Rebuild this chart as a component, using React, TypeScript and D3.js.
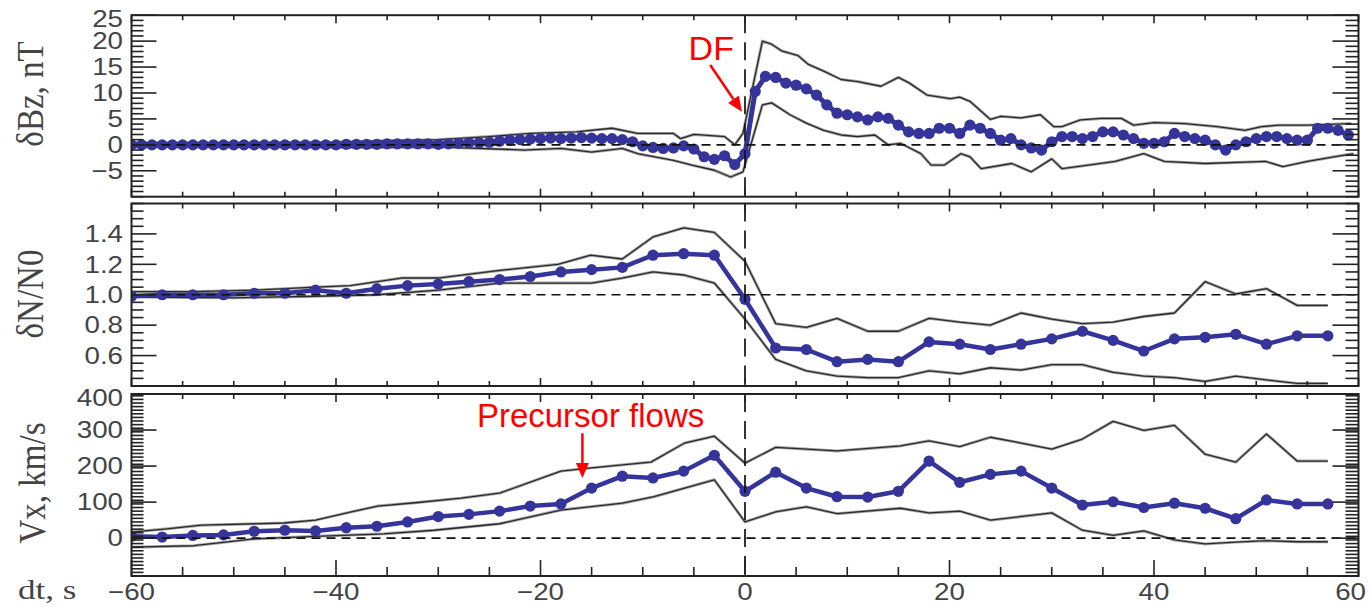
import React from 'react';
import * as d3 from 'd3';

// ---------- DATA ----------
// δBz (nT), 1-s samples from -60 s to 59 s
const bzTimes = d3.range(-60, 60, 1);
const bzMean = [
  // -60 .. -40
  0, 0, 0, 0, 0, 0, 0, 0, 0, 0, 0, 0, 0, 0, 0, 0, 0, 0, 0, 0, 0,
  // -39 .. -30
  0.1, 0.1, 0.1, 0.1, 0.2, 0.2, 0.2, 0.2, 0.2, 0.1,
  // -29 .. 0
  0.2, 0.3, 0.4, 0.4, 0.5, 0.7, 0.9, 1.0, 1.1, 1.2,
  1.3, 1.2, 1.3, 1.4, 1.3, 1.2, 1.2, 1.0, 0.6, -0.2,
  -0.5, -0.7, -0.6, -0.2, -0.8, -2.3, -2.8, -2.1, -3.8, -1.7,
  // 1 .. 14
  10.3, 13.2, 13.0, 11.9, 11.5, 10.8, 9.6, 7.7, 6.1, 5.8, 5.4, 4.8, 5.4, 5.1,
  // 15 .. 59
  3.8, 2.5, 2.2, 2.2, 3.2, 3.2, 2.2, 3.8, 3.2, 2.2,
  0.9, 1.2, 0, -0.6, -1.0, 0.6, 1.6, 1.6, 1.2, 1.6,
  2.5, 2.5, 1.9, 1.2, 0.3, 0.3, 0.6, 2.2, 1.6, 1.2,
  0.9, 0, -1.0, 0, 0.6, 1.2, 1.6, 1.6, 1.2, 0.9,
  0.9, 3.2, 3.2, 2.8, 1.9,
];
const bzUpperT = [-60, -50, -40, -35, -30, -25, -21, -16.5, -13, -10.5, -7, -6.3, -5, -2, -1, -0.2, 1.7, 2.6, 3.6, 5.2, 6.2, 7.7, 9.4, 11, 13.3, 15, 16, 17.8, 20.1, 21, 22, 24, 25, 27, 28.9, 30.2, 31, 32.8, 34.8, 36.8, 38, 40, 43, 46.2, 48.9, 50.5, 52.2, 55, 59.3];
const bzUpperV = [0.4, 0.4, 0.5, 0.8, 1.0, 1.6, 2.2, 2.5, 3.2, 2.2, 2.2, 1.2, 2.0, 1.6, 0.0, 2.2, 20.0, 19.4, 18.1, 17.2, 15.5, 14.2, 12.6, 12.2, 11.3, 13.0, 12.0, 9.6, 8.9, 9.2, 8.4, 4.9, 5.5, 5.2, 5.8, 3.5, 3.5, 4.8, 5.1, 5.1, 3.8, 4.3, 4.1, 3.5, 2.8, 3.5, 3.8, 3.8, 4.1];
const bzLowerT = [-60, -50, -40, -35, -30, -21.6, -18, -15, -12, -10.5, -7, -5, -3, -1.4, -0.2, 1.7, 2.6, 4.4, 6, 7.7, 9.4, 11, 12.7, 14, 15.2, 17.2, 18.2, 19.5, 21.1, 22, 23.1, 26.1, 28, 30, 31, 33.6, 36.2, 39, 41, 45, 50.9, 52.6, 55, 57.6, 59.5];
const bzLowerV = [-0.4, -0.4, -0.5, -0.5, -0.4, -1.0, -0.7, -1.4, -0.7, -1.7, -3.0, -4.0, -4.9, -6.2, -5.2, 7.7, 8.1, 5.8, 4.2, 2.8, 1.9, 1.6, 1.9, 0, 0.3, -1.7, -3.9, -3.9, -1.7, -2.3, -4.6, -3.6, -5.2, -2.7, -4.6, -3.9, -3.2, -1.7, -3.2, -3.6, -3.2, -4.2, -3.2, -2.3, -1.7];

// δN/N0, 3-s samples
const dnTimes = [-60, -57, -54, -51, -48, -45, -42, -39, -36, -33, -30, -27, -24, -21, -18, -15, -12, -9, -6, -3, 0, 3, 6, 9, 12, 15, 18, 21, 24, 27, 30, 33, 36, 39, 42, 45, 48, 51, 54, 57];
const dnMean = [0.99, 1.0, 1.0, 1.0, 1.01, 1.01, 1.03, 1.01, 1.04, 1.06, 1.07, 1.086, 1.1, 1.12, 1.15, 1.165, 1.18, 1.26, 1.27, 1.26, 0.97, 0.65, 0.64, 0.56, 0.575, 0.56, 0.69, 0.675, 0.64, 0.675, 0.71, 0.76, 0.7, 0.63, 0.71, 0.72, 0.74, 0.675, 0.73, 0.73];
const dnUpperT = [-60, -54, -48, -42, -38.6, -33.6, -30, -24, -18.3, -15.1, -12, -9, -6, -3, 0, 3, 6, 9, 12, 15, 18, 21, 24, 27, 30, 33, 36, 39, 42, 45, 48, 51, 54, 57];
const dnUpperV = [1.02, 1.02, 1.03, 1.05, 1.06, 1.11, 1.11, 1.16, 1.2, 1.26, 1.235, 1.38, 1.44, 1.41, 1.22, 0.81, 0.785, 0.845, 0.76, 0.76, 0.845, 0.82, 0.8, 0.88, 0.84, 0.81, 0.82, 0.857, 0.88, 1.086, 1.005, 1.04, 0.93, 0.93];
const dnLowerT = [-60, -50, -42, -36, -30, -24, -15, -12, -9, -6, -3, 0, 3, 6, 9, 12, 15, 18, 21, 24, 27, 30, 33, 36, 39, 42, 45, 48, 51, 54, 57];
const dnLowerV = [0.985, 0.98, 0.99, 1.0, 1.03, 1.077, 1.077, 1.11, 1.15, 1.13, 1.077, 0.84, 0.575, 0.5, 0.465, 0.455, 0.455, 0.5, 0.48, 0.52, 0.505, 0.54, 0.54, 0.49, 0.465, 0.455, 0.43, 0.465, 0.44, 0.417, 0.417];

// Vx (km/s), 3-s samples
const vxTimes = dnTimes;
const vxMean = [5, 3, 7.5, 9, 19, 22, 20, 29, 33, 45, 60, 66, 75, 89, 95, 139, 172, 167, 186, 230, 130, 183, 139, 115, 114, 130, 214, 155, 177, 186, 139, 92, 101, 85, 97, 83, 54, 106, 95, 95];
const vxUpperT = [-60, -56.5, -53.2, -45.1, -42, -38.5, -35.9, -32, -27.8, -24, -18, -15, -9.2, -5.9, -3, 0, 3, 9, 15.2, 18, 21, 24, 27, 30, 33, 36, 39, 42, 45, 48, 51, 54, 57];
const vxUpperV = [17, 26, 36, 42, 50, 73, 89, 99, 111, 125, 186, 195, 211, 264, 283, 208, 252, 242, 256, 270, 254, 280, 264, 247, 275, 324, 299, 313, 233, 211, 289, 214, 214];
const vxLowerT = [-60, -53.9, -48, -42, -35.3, -30.4, -24, -18, -12, -8.9, -3, 0, 3, 6, 9, 15.2, 18, 21, 24, 30, 33, 36, 39, 42, 45, 48, 51, 54, 57];
const vxLowerV = [-25, -21, -2, 5, 12, 22, 40, 78, 97, 115, 162, 45, 73, 87, 68, 83, 70, 75, 50, 70, 22, 8, 20, -5, -16, -11, -7, -10, -10];

// axis ticks
const xMajorTicks = [-60, -40, -20, 0, 20, 40, 60];
const bzTickValues = [-5, 0, 5, 10, 15, 20, 25];
const dnTickValues = [0.6, 0.8, 1.0, 1.2, 1.4];
const vxTickValues = [0, 100, 200, 300, 400];

// ---------- LAYOUT ----------
const W = 1371;
const H = 607;
const XL = 131.5;
const XR = 1358.5;
const BLUE = '#34349a';
const LABEL = '#444';

const x = d3.scaleLinear().domain([-60, 60]).range([XL, XR]);

type Panel = {
  key: string;
  top: number;
  bottom: number;
  domain: [number, number];
  majors: number[];
  minorStep: number;
  fmt: (v: number) => string;
  title: string;
  titleX: number;
  titleY: number;
  ref: number;
  t: number[];
  mean: number[];
  upT: number[];
  upV: number[];
  loT: number[];
  loV: number[];
  r: number;
  lw: number;
  topLabelShift: number;
};

const fmtInt = (v: number) => (v < 0 ? '\u2212' + Math.abs(v) : String(v));

const panels: Panel[] = [
  {
    key: 'bz', top: 15.2, bottom: 196.7, domain: [-10, 25], majors: bzTickValues, minorStep: 1,
    fmt: fmtInt, title: 'δBz, nT', titleX: 30, titleY: 94, ref: 0,
    t: bzTimes, mean: bzMean, upT: bzUpperT, upV: bzUpperV, loT: bzLowerT, loV: bzLowerV,
    r: 5.6, lw: 5, topLabelShift: 4,
  },
  {
    key: 'dn', top: 203.5, bottom: 386, domain: [0.4, 1.6], majors: dnTickValues, minorStep: 0.05,
    fmt: (v) => v.toFixed(1), title: 'δN/N0', titleX: 30, titleY: 294, ref: 1.0,
    t: dnTimes, mean: dnMean, upT: dnUpperT, upV: dnUpperV, loT: dnLowerT, loV: dnLowerV,
    r: 5.6, lw: 4.5, topLabelShift: 0,
  },
  {
    key: 'vx', top: 394, bottom: 576, domain: [-105, 400], majors: vxTickValues, minorStep: 10,
    fmt: fmtInt, title: 'Vx, km/s', titleX: 32, titleY: 483, ref: 0,
    t: vxTimes, mean: vxMean, upT: vxUpperT, upV: vxUpperV, loT: vxLowerT, loV: vxLowerV,
    r: 5.6, lw: 4.5, topLabelShift: 4,
  },
];

const xMinor = d3.range(-60, 60.001, 5);

function PanelView({ p, isLast }: { p: Panel; isLast: boolean }) {
  const y = d3.scaleLinear().domain(p.domain).range([p.bottom, p.top]);
  const line = d3
    .line<[number, number]>()
    .x((d) => x(d[0]))
    .y((d) => y(d[1]));
  const meanPts: [number, number][] = p.t.map((t, i) => [t, p.mean[i]]);
  const upPts: [number, number][] = p.upT.map((t, i) => [t, p.upV[i]]);
  const loPts: [number, number][] = p.loT.map((t, i) => [t, p.loV[i]]);

  const eps = 1e-6;
  const minors = d3
    .range(p.domain[0], p.domain[1] + eps, p.minorStep)
    .filter((v) => v >= p.domain[0] - eps && v <= p.domain[1] + eps)
    .filter((v) => !p.majors.some((m) => Math.abs(m - v) < p.minorStep / 10));

  const clipId = 'clip-' + p.key;
  const bottomMinorLen = isLast ? 9 : 5;
  const bottomMajorLen = isLast ? 16 : 8;

  return (
    <g>
      <defs>
        <clipPath id={clipId}>
          <rect x={XL} y={p.top} width={XR - XL} height={p.bottom - p.top} />
        </clipPath>
      </defs>
      <g clipPath={`url(#${clipId})`}>
        {/* envelopes */}
        {[upPts, loPts].map((pts, i) => (
          <g key={i}>
            <path d={line(pts) || ''} fill="none" stroke="#a8a8a8" strokeWidth={3} strokeLinejoin="round" />
            <path d={line(pts) || ''} fill="none" stroke="#2a2a2a" strokeWidth={1.3} strokeLinejoin="round" />
          </g>
        ))}
        {/* mean */}
        <path d={line(meanPts) || ''} fill="none" stroke={BLUE} strokeWidth={p.lw} strokeLinejoin="round" />
        {meanPts.map((d, i) => (
          <circle key={i} cx={x(d[0])} cy={y(d[1])} r={p.r} fill={BLUE} />
        ))}
        {/* reference dashed lines */}
        <line x1={XL} x2={XR} y1={y(p.ref)} y2={y(p.ref)} stroke="#111" strokeWidth={1.7} strokeDasharray="9,6" />
        <line x1={x(0)} x2={x(0)} y1={p.top} y2={p.bottom} stroke="#111" strokeWidth={1.7} strokeDasharray="18,9" />
      </g>

      {/* y ticks left and right */}
      {p.majors.map((v) => (
        <g key={'M' + v}>
          <line x1={XL} x2={XL + 25} y1={y(v)} y2={y(v)} stroke="#222" strokeWidth={1.6} />
          <line x1={XR} x2={XR - 26} y1={y(v)} y2={y(v)} stroke="#222" strokeWidth={1.6} />
        </g>
      ))}
      {minors.map((v, i) => (
        <g key={'m' + i}>
          <line x1={XL} x2={XL + 12} y1={y(v)} y2={y(v)} stroke="#222" strokeWidth={1.6} />
          <line x1={XR} x2={XR - 13} y1={y(v)} y2={y(v)} stroke="#222" strokeWidth={1.6} />
        </g>
      ))}
      {/* x ticks top and bottom */}
      {xMinor.map((t) => {
        const major = xMajorTicks.includes(t);
        return (
          <g key={'x' + t}>
            <line x1={x(t)} x2={x(t)} y1={p.top} y2={p.top + (major ? 8 : 5)} stroke="#222" strokeWidth={1.6} />
            <line x1={x(t)} x2={x(t)} y1={p.bottom} y2={p.bottom - (major ? bottomMajorLen : bottomMinorLen)} stroke="#222" strokeWidth={1.6} />
          </g>
        );
      })}
      {/* frame */}
      <rect x={XL} y={p.top} width={XR - XL} height={p.bottom - p.top} fill="none" stroke="#222" strokeWidth={2} />

      {/* y tick labels */}
      {p.majors.map((v) => {
        const isTop = Math.abs(y(v) - p.top) < 3;
        return (
          <text
            key={'L' + v}
            transform={`translate(123, ${y(v) + (isTop ? p.topLabelShift : 0)}) scale(1.18,1)`}
            textAnchor="end"
            dominantBaseline="central"
            fontFamily="'Liberation Sans', Arial, sans-serif"
            fontSize={23.5}
            fill={LABEL}
          >
            {p.fmt(v)}
          </text>
        );
      })}
      {/* title */}
      <text
        transform={`translate(${p.titleX}, ${p.titleY}) rotate(-90) scale(1,1.15)`}
        textAnchor="middle"
        dominantBaseline="central"
        fontFamily="'Liberation Serif', 'Times New Roman', serif"
        fontSize={33}
        fill={LABEL}
      >
        {p.title}
      </text>
    </g>
  );
}

function Arrow({ x1, y1, x2, y2, head = 15, width = 13 }: { x1: number; y1: number; x2: number; y2: number; head?: number; width?: number }) {
  const dx = x2 - x1;
  const dy = y2 - y1;
  const len = Math.hypot(dx, dy);
  const ux = dx / len;
  const uy = dy / len;
  const bx = x2 - ux * head;
  const by = y2 - uy * head;
  const px = -uy * (width / 2);
  const py = ux * (width / 2);
  return (
    <g>
      <line x1={x1} y1={y1} x2={bx} y2={by} stroke="#ff0000" strokeWidth={2.5} />
      <polygon points={`${x2},${y2} ${bx + px},${by + py} ${bx - px},${by - py}`} fill="#ff0000" />
    </g>
  );
}

export default function App() {
  const yBz = d3.scaleLinear().domain(panels[0].domain).range([panels[0].bottom, panels[0].top]);
  const yVx = d3.scaleLinear().domain(panels[2].domain).range([panels[2].bottom, panels[2].top]);
  return (
    <svg
      width={W}
      height={H}
      viewBox={`0 0 ${W} ${H}`}
      style={{ position: 'absolute', left: 0, top: 0, background: '#fff' }}
    >
      <rect x={0} y={0} width={W} height={H} fill="#fff" />
      {panels.map((p, i) => (
        <PanelView key={p.key} p={p} isLast={i === panels.length - 1} />
      ))}

      {/* x tick labels */}
      {xMajorTicks.map((t, i) => {
        const last = i === xMajorTicks.length - 1;
        return (
          <text
            key={'xl' + t}
            transform={`translate(${last ? 1366 : x(t)}, 600) scale(1.18,1)`}
            textAnchor={last ? 'end' : 'middle'}
            fontFamily="'Liberation Sans', Arial, sans-serif"
            fontSize={23.5}
            fill={LABEL}
          >
            {fmtInt(t)}
          </text>
        );
      })}
      <text
        transform="translate(18, 599) scale(1.3,1)"
        fontFamily="'Liberation Serif', 'Times New Roman', serif"
        fontSize={27}
        fill={LABEL}
      >
        dt, s
      </text>

      {/* annotations */}
      <text x={x(-3.3)} y={yBz(16.4)} textAnchor="middle" fontFamily="'Liberation Sans', Arial, sans-serif" fontSize={34} fill="#ff0000">
        DF
      </text>
      <Arrow x1={x(-3.4)} y1={yBz(15.4)} x2={x(-0.3)} y2={yBz(6.4)} />
      <text x={x(-15.1)} y={yVx(308)} textAnchor="middle" fontFamily="'Liberation Sans', Arial, sans-serif" fontSize={33} fill="#ff0000">
        Precursor flows
      </text>
      <Arrow x1={x(-15.9)} y1={yVx(291)} x2={x(-15.9)} y2={yVx(167)} />
    </svg>
  );
}
